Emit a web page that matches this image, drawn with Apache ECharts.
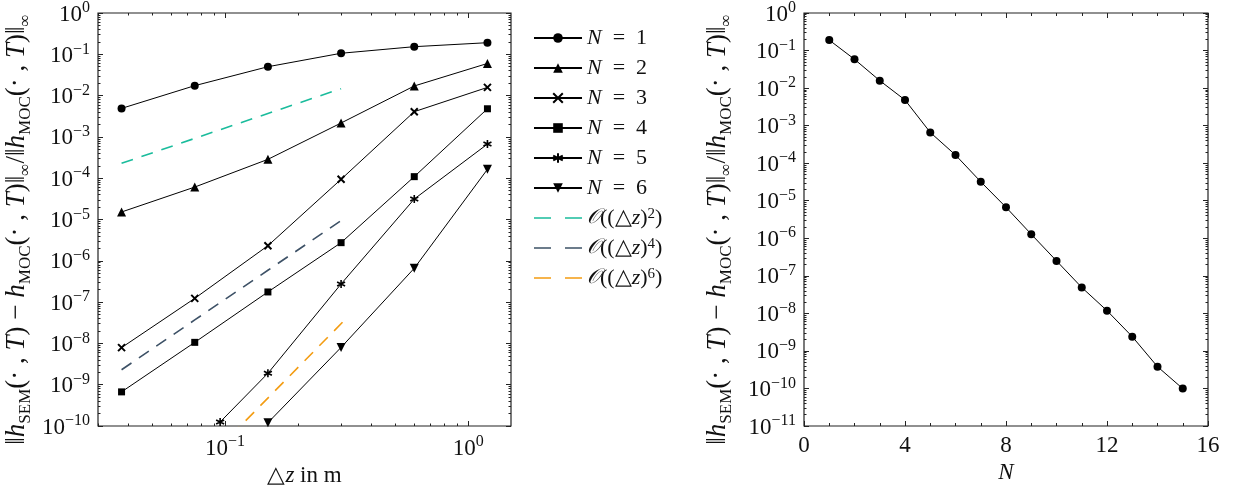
<!DOCTYPE html>
<html>
<head>
<meta charset="utf-8">
<script src="https://cdn.jsdelivr.net/npm/echarts@6/dist/echarts.min.js"></script>
<style>
  html, body { margin: 0; padding: 0; background: #fff; }
  #main { width: 1235px; height: 487px; }
</style>
</head>
<body>
<div id="main"></div>
<script>
// left: error vs grid spacing for each polynomial degree N
const dz = [0.0375, 0.075, 0.15, 0.3, 0.6, 1.2]
const errN1 = [4.9e-3, 1.74e-2, 5.0e-2, 1.06e-1, 1.53e-1, 1.91e-1]
const errN2 = [1.52e-5, 6.1e-5, 2.86e-4, 2.17e-3, 1.71e-2, 6.0e-2]
const errN3 = [7.9e-9, 1.23e-7, 2.32e-6, 9.4e-5, 4.08e-3, 1.58e-2]
const errN4 = [6.7e-10, 1.06e-8, 1.76e-7, 2.75e-6, 1.09e-4, 4.8e-3]
const dzN5 = [0.0954, 0.15, 0.3, 0.6, 1.2]
const errN5 = [1.25e-10, 1.89e-9, 2.75e-7, 3.13e-5, 6.7e-4]
const dzN6 = [0.15, 0.3, 0.6, 1.2]
const errN6 = [1.2e-10, 8.0e-9, 6.6e-7, 1.64e-4]

// reference slopes
const dzRef = [0.0375, 0.075, 0.15, 0.3]
const ord2 = [2.3e-4, 9.2e-4, 3.7e-3, 1.47e-2]
const ord4 = [2.3e-9, 3.7e-8, 5.9e-7, 9.4e-6]
const dzRef6 = [0.08, 0.16, 0.32]
const ord6 = [1.1e-11, 7.0e-10, 4.4e-8]

// right: error vs N
const nVals = [1, 2, 3, 4, 5, 6, 7, 8, 9, 10, 11, 12, 13, 14, 15]
const errByN = [0.19, 0.0585, 0.0158, 4.82e-3, 6.6e-4, 1.65e-4, 3.2e-5, 6.7e-6, 1.28e-6, 2.5e-7, 4.9e-8, 1.18e-8, 2.4e-9, 3.8e-10, 9.9e-11]

// tick labels
const xDecades = [-1, 0]
const yDecadesLeft = [0, -1, -2, -3, -4, -5, -6, -7, -8, -9, -10]
const yDecadesRight = [0, -1, -2, -3, -4, -5, -6, -7, -8, -9, -10, -11]
const nTicks = [0, 4, 8, 12, 16]

const serif = 'Liberation Serif'
const pairs = (xs, ys) => xs.map((x, i) => [x, ys[i]])
const pow10 = e => Math.pow(10, e)
function minorVals(lo, hi) {
    let out = []
    for (let e = lo; e < hi; e++) {
        for (let k = 2; k <= 9; k++) out.push(k * pow10(e))
    }
    return out
}
function expLabel(v) {
    let e = Math.round(Math.log10(v))
    let s = e < 0 ? '\u2212' + (-e) : '' + e
    return '{b|10}{e|' + s + '}'
}
const labelRich = {
    b: { fontFamily: serif, fontSize: 23, color: '#111', verticalAlign: 'bottom', lineHeight: 26 },
    e: { fontFamily: serif, fontSize: 16, color: '#111', verticalAlign: 'top', lineHeight: 26, padding: [0, 0, 10, 0] }
}

const xMinorLeft = minorVals(-2, 1).filter(v => v >= 0.03 && v <= 1.5)
const yMinorLeft = minorVals(-10, 0)
const yMinorRight = minorVals(-11, 0)

function logAxis(o) {
    return Object.assign({
        type: 'log',
        logBase: 10,
        axisLine: { show: false },
        splitLine: { show: false },
        axisLabel: { show: false },
        axisTick: { show: true, inside: true, length: 5, lineStyle: { color: '#222', width: 1 } }
    }, o)
}

const yName = '{t|\u2016}{i|h}{s|SEM}{t|(\u00b7 , }{i|T}{t|) \u2212 }{i|h}{s|MOC}{t|(\u00b7 , }{i|T}{t|)\u2016}{s|\u221e}{t|/\u2016}{i|h}{s|MOC}{t|(\u00b7 , }{i|T}{t|)\u2016}{s|\u221e}'
const nameRich = {
    t: { fontFamily: serif, fontSize: 27, color: '#111', verticalAlign: 'middle', lineHeight: 34 },
    i: { fontFamily: serif, fontSize: 27, fontStyle: 'italic', color: '#111', verticalAlign: 'middle', lineHeight: 34 },
    s: { fontFamily: serif, fontSize: 17, color: '#111', verticalAlign: 'bottom', lineHeight: 34 }
}
const xNameRich = {
    t: { fontFamily: serif, fontSize: 23, color: '#111' },
    i: { fontFamily: serif, fontSize: 23, fontStyle: 'italic', color: '#111' }
}

const xPath = 'path://M0,0L10,10M10,0L0,10'
const starPath = 'path://M5,0L5,10M0.7,2.5L9.3,7.5M0.7,7.5L9.3,2.5'

function dataSeries(name, xs, ys, symbol, size, extra) {
    return Object.assign({
        name: name,
        type: 'line',
        xAxisIndex: 0,
        yAxisIndex: 0,
        data: pairs(xs, ys),
        symbol: symbol,
        symbolSize: size,
        showSymbol: true,
        lineStyle: { color: '#000', width: 1 },
        itemStyle: { color: '#000', borderColor: '#000', borderWidth: 0 },
        emphasis: { disabled: true },
        animation: false,
        z: 3
    }, extra || {})
}
function refSeries(name, xs, ys, color) {
    return {
        name: name,
        type: 'line',
        xAxisIndex: 0,
        yAxisIndex: 0,
        data: pairs(xs, ys),
        symbol: 'none',
        lineStyle: { color: color, width: 1.6, type: [12, 9] },
        itemStyle: { color: color },
        emphasis: { disabled: true },
        animation: false,
        z: 2
    }
}
const refLegend = name => ({ name: name, lineStyle: { type: [17, 14], width: 1.6 }, itemStyle: { opacity: 0 } })

var chartDom = document.getElementById('main')
var myChart = echarts.init(chartDom)
var option = {
    animation: false,
    backgroundColor: '#fff',
    grid: [
        { left: 98, top: 13, width: 413, height: 413, outerBoundsMode: 'none', containLabel: false, show: true, borderColor: '#222', borderWidth: 1.2, backgroundColor: 'transparent' },
        { left: 804, top: 13, width: 404, height: 413, outerBoundsMode: 'none', containLabel: false, show: true, borderColor: '#222', borderWidth: 1.2, backgroundColor: 'transparent' }
    ],
    legend: {
        left: 528,
        top: 22,
        orient: 'vertical',
        itemWidth: 48,
        itemHeight: 12,
        itemGap: 8,
        selectedMode: false,
        textStyle: {
            fontFamily: serif,
            fontSize: 22,
            lineHeight: 22,
            color: '#111',
            rich: {
                i: { fontFamily: serif, fontSize: 22, fontStyle: 'italic', color: '#111', lineHeight: 22 },
                c: { fontFamily: 'DejaVu Serif', fontSize: 21, fontStyle: 'italic', color: '#111', lineHeight: 22 },
                p: { fontFamily: serif, fontSize: 15, color: '#111', verticalAlign: 'top', lineHeight: 22 }
            }
        },
        formatter: function (name) {
            if (name.indexOf('N = ') === 0) return '{i|N}\u2002=\u2002' + name.slice(4)
            let p = name.slice(-1)
            return '{c|\ud835\udcaa}((\u25b3{i|z}){p|' + p + '})'
        },
        data: [
            { name: 'N = 1' }, { name: 'N = 2' }, { name: 'N = 3' },
            { name: 'N = 4' }, { name: 'N = 5' }, { name: 'N = 6' },
            refLegend('O2'), refLegend('O4'), refLegend('O6')
        ]
    },
    xAxis: [
        logAxis({
            gridIndex: 0, min: 0.03, max: 1.5, position: 'bottom',
            axisTick: { show: true, inside: true, length: 5, customValues: xDecades.map(pow10), lineStyle: { color: '#222' } },
            axisLabel: { show: true, customValues: xDecades.map(pow10), margin: 8, formatter: expLabel, rich: labelRich },
            name: '{t|\u25b3}{i|z}{t| in m}',
            nameLocation: 'middle',
            nameGap: 29,
            nameTextStyle: { rich: xNameRich }
        }),
        logAxis({ gridIndex: 0, min: 0.03, max: 1.5, position: 'bottom',
            axisTick: { show: true, inside: true, length: 2.5, customValues: xMinorLeft, lineStyle: { color: '#222' } } }),
        logAxis({ gridIndex: 0, min: 0.03, max: 1.5, position: 'top',
            axisTick: { show: true, inside: true, length: 5, customValues: xDecades.map(pow10), lineStyle: { color: '#222' } } }),
        logAxis({ gridIndex: 0, min: 0.03, max: 1.5, position: 'top',
            axisTick: { show: true, inside: true, length: 2.5, customValues: xMinorLeft, lineStyle: { color: '#222' } } }),
        {
            type: 'value', gridIndex: 1, min: 0, max: 16, interval: 4, position: 'bottom',
            axisLine: { show: false },
            splitLine: { show: false },
            axisTick: { show: true, inside: true, length: 5, lineStyle: { color: '#222' } },
            minorTick: { show: true, splitNumber: 4, length: 3, lineStyle: { color: '#222' } },
            axisLabel: { show: true, margin: 8, fontFamily: serif, fontSize: 23, color: '#111', formatter: v => nTicks.indexOf(v) >= 0 ? '' + v : '' },
            name: 'N',
            nameLocation: 'middle',
            nameGap: 31,
            nameTextStyle: { fontFamily: serif, fontSize: 23, fontStyle: 'italic', color: '#111' }
        },
        {
            type: 'value', gridIndex: 1, min: 0, max: 16, interval: 4, position: 'top',
            axisLine: { show: false },
            splitLine: { show: false },
            axisLabel: { show: false },
            axisTick: { show: true, inside: true, length: 5, lineStyle: { color: '#222' } },
            minorTick: { show: true, splitNumber: 4, length: 3, lineStyle: { color: '#222' } }
        }
    ],
    yAxis: [
        logAxis({
            gridIndex: 0, min: 1e-10, max: 1, position: 'left',
            axisTick: { show: true, inside: true, length: 5, customValues: yDecadesLeft.map(pow10), lineStyle: { color: '#222' } },
            axisLabel: { show: true, customValues: yDecadesLeft.map(pow10), margin: 8, formatter: expLabel, rich: labelRich },
            name: yName,
            nameLocation: 'middle',
            nameRotate: 90,
            nameGap: 64,
            nameTextStyle: { rich: nameRich, padding: [0, 20, 0, 0] }
        }),
        logAxis({ gridIndex: 0, min: 1e-10, max: 1, position: 'left',
            axisTick: { show: true, inside: true, length: 2.5, customValues: yMinorLeft, lineStyle: { color: '#222' } } }),
        logAxis({ gridIndex: 0, min: 1e-10, max: 1, position: 'right',
            axisTick: { show: true, inside: true, length: 5, customValues: yDecadesLeft.map(pow10), lineStyle: { color: '#222' } } }),
        logAxis({ gridIndex: 0, min: 1e-10, max: 1, position: 'right',
            axisTick: { show: true, inside: true, length: 2.5, customValues: yMinorLeft, lineStyle: { color: '#222' } } }),
        logAxis({
            gridIndex: 1, min: 1e-11, max: 1, position: 'left',
            axisTick: { show: true, inside: true, length: 5, customValues: yDecadesRight.map(pow10), lineStyle: { color: '#222' } },
            axisLabel: { show: true, customValues: yDecadesRight.map(pow10), margin: 8, formatter: expLabel, rich: labelRich },
            name: yName,
            nameLocation: 'middle',
            nameRotate: 90,
            nameGap: 69,
            nameTextStyle: { rich: nameRich, padding: [0, 20, 0, 0] }
        }),
        logAxis({ gridIndex: 1, min: 1e-11, max: 1, position: 'left',
            axisTick: { show: true, inside: true, length: 2.5, customValues: yMinorRight, lineStyle: { color: '#222' } } }),
        logAxis({ gridIndex: 1, min: 1e-11, max: 1, position: 'right',
            axisTick: { show: true, inside: true, length: 5, customValues: yDecadesRight.map(pow10), lineStyle: { color: '#222' } } }),
        logAxis({ gridIndex: 1, min: 1e-11, max: 1, position: 'right',
            axisTick: { show: true, inside: true, length: 2.5, customValues: yMinorRight, lineStyle: { color: '#222' } } })
    ],
    series: [
        dataSeries('N = 1', dz, errN1, 'circle', 8),
        dataSeries('N = 2', dz, errN2, 'triangle', 9),
        dataSeries('N = 3', dz, errN3, xPath, 7, { itemStyle: { color: 'none', borderColor: '#000', borderWidth: 2 } }),
        dataSeries('N = 4', dz, errN4, 'rect', 7),
        dataSeries('N = 5', dzN5, errN5, starPath, 8, { itemStyle: { color: 'none', borderColor: '#000', borderWidth: 1.6 } }),
        dataSeries('N = 6', dzN6, errN6, 'triangle', 9, { symbolRotate: 180 }),
        refSeries('O2', dzRef, ord2, '#1abc9c'),
        refSeries('O4', dzRef, ord4, '#3d5166'),
        refSeries('O6', dzRef6, ord6, '#f39c12'),
        {
            name: 'byN',
            type: 'line',
            xAxisIndex: 4,
            yAxisIndex: 4,
            data: pairs(nVals, errByN),
            symbol: 'circle',
            symbolSize: 8,
            lineStyle: { color: '#000', width: 1 },
            itemStyle: { color: '#000' },
            emphasis: { disabled: true },
            animation: false
        }
    ]
}
option && myChart.setOption(option)
</script>
</body>
</html>
